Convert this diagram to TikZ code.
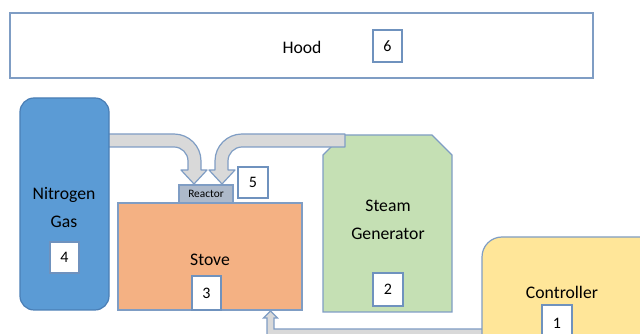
\documentclass[tikz,border=0pt]{standalone}
\usepackage{fontspec}
\setmainfont{Carlito}
\usetikzlibrary{calc}

\definecolor{edgeblue}{HTML}{7F9DC4}
\definecolor{darkedge}{HTML}{4A7EB5}
\definecolor{gasblue}{HTML}{5B9BD5}
\definecolor{stovefill}{HTML}{F4B183}
\definecolor{steamfill}{HTML}{C5E0B4}
\definecolor{ctrlfill}{HTML}{FFE699}
\definecolor{reactfill}{HTML}{ADB9CA}
\definecolor{pipefill}{HTML}{D9D9D9}
\definecolor{numedge}{HTML}{6F92BE}

\tikzset{
  unit/.style={draw=edgeblue, line width=0.9pt, inner sep=0pt},
  numbox/.style={draw=numedge, fill=white, line width=0.8pt, inner sep=0pt,
    font=\fontsize{12}{14}\selectfont},
  lbl/.style={font=\fontsize{13.25}{21}\selectfont, align=center, inner sep=0pt},
  pipe/.style={draw=edgeblue, fill=pipefill, line width=0.9pt, line join=round},
}

\begin{document}
\begin{tikzpicture}[x=0.75pt, y=-0.75pt]
\useasboundingbox (0,0) rectangle (640,334);
\clip (0,0) rectangle (640,334);

% Hood
\node[unit, fill=white, minimum width=583*0.75pt, minimum height=65*0.75pt] (hood) at (301.5,45.5) {};
\node[lbl] (hoodtxt) at (302,47) {Hood};
\node[numbox, minimum width=29*0.75pt, minimum height=32*0.75pt] (n6) at (387.5,46) {6};

% Steam generator (snipped top corners)
\filldraw[draw=edgeblue, fill=steamfill, line width=0.9pt]
  (323,155) -- (343,135) -- (432,135) -- (452,155) -- (452,312) -- (323,312) -- cycle;
\node[lbl] (steamtxt) at (388,220) {Steam\\Generator};
\node[numbox, minimum width=30*0.75pt, minimum height=33*0.75pt] (n2) at (388,289.5) {2};

% Stove with reactor on top
\node[unit, fill=stovefill, minimum width=184*0.75pt, minimum height=107*0.75pt] (stove) at (210,256.5) {};
\node[lbl] (stovetxt) at (210,260) {Stove};
\node[numbox, minimum width=29*0.75pt, minimum height=34*0.75pt] (n3) at (206.5,293) {3};
\node[unit, fill=reactfill, minimum width=54*0.75pt, minimum height=18*0.75pt,
  font=\fontsize{8.5}{10}\selectfont] (reactor) at (206,194) {Reactor};
\node[numbox, minimum width=30*0.75pt, minimum height=31*0.75pt] (n5) at (253,182.5) {5};

% Pipe from the nitrogen cylinder down into the reactor
\filldraw[pipe]
  (105,134) -- (174,134) arc[start angle=-90, end angle=0, radius=27]
  -- (201,170) -- (207,170) -- (194,184) -- (181,170) -- (188,170)
  -- (188,161) arc[start angle=0, end angle=-90, radius=14]
  -- (105,147) -- cycle;

% Pipe from the steam generator down into the reactor
\filldraw[pipe]
  (345,134) -- (242,134) arc[start angle=-90, end angle=-180, radius=27]
  -- (215,170) -- (209,170) -- (222,184) -- (235,170) -- (228,170)
  -- (228,161) arc[start angle=180, end angle=270, radius=14]
  -- (345,147) -- cycle;

% Control line from the controller up to the stove
\filldraw[pipe, line join=miter]
  (490,329) -- (274,329) -- (274,318) -- (277.5,318) -- (270.5,311)
  -- (263.5,318) -- (267,318) -- (267,337) -- (490,337) -- cycle;

% Nitrogen gas cylinder
\node[draw=darkedge, fill=gasblue, line width=0.9pt, rounded corners=10.5pt,
  minimum width=89*0.75pt, minimum height=212*0.75pt] (gas) at (64.5,204) {};
\node[lbl] (gastxt) at (64,207) {Nitrogen\\Gas};
\node[numbox, minimum width=29*0.75pt, minimum height=31*0.75pt] (n4) at (64.5,257.5) {4};

% Controller
\filldraw[draw=edgeblue, fill=ctrlfill, line width=0.9pt, rounded corners=15pt]
  (482,237) rectangle (680,380);
\node[lbl] (ctrltxt) at (562,292) {Controller};
\node[numbox, minimum width=30*0.75pt, minimum height=36*0.75pt] (n1) at (557,323) {1};
\end{tikzpicture}
\end{document}
